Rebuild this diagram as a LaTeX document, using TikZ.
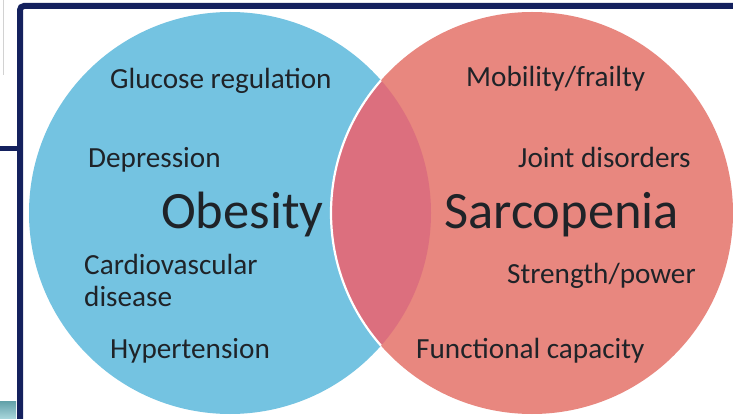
\documentclass[tikz,border=0pt]{standalone}
\usepackage{fontspec}
\setmainfont{Carlito}
\definecolor{framenavy}{HTML}{14215E}
\definecolor{obesblue}{HTML}{74C3E1}
\definecolor{sarcred}{HTML}{E8877F}
\definecolor{overlapred}{HTML}{DC6F7E}
\definecolor{inkdark}{HTML}{1F2328}
\definecolor{tealbar}{HTML}{72BCC6}
\begin{document}
\begin{tikzpicture}[x=1pt,y=-1pt,
  item/.style={anchor=base west, inner sep=0pt, text=inkdark,
    font=\fontsize{29.2}{31}\selectfont},
  heading/.style={anchor=base west, inner sep=0pt, text=inkdark,
    font=\fontsize{52.5}{56}\selectfont}]
\useasboundingbox (0,0) rectangle (733,419);
\fill[white] (0,0) rectangle (733,419);

% pieces of the neighbouring slide content
\draw[gray!35, line width=1.5pt] (3.5,0) -- (3.5,75);
\draw[framenavy, line width=5pt] (0,149) -- (17,149);
\shade[top color=tealbar!85!black, bottom color=tealbar!60!white] (0,401) rectangle (16,419);

% slide frame
\draw[framenavy, line width=6pt, rounded corners=4pt] (20,419) -- (20,6) -- (740,6);

% the two sets
\coordinate (cO) at (230,213);
\coordinate (cS) at (532,213);
\fill[obesblue] (cO) circle (201);
\fill[sarcred] (cS) circle (201);
\begin{scope}
  \clip (cO) circle (201);
  \fill[overlapred] (cS) circle (201);
\end{scope}
\begin{scope}
  \clip (cO) circle (201);
  \draw[white, line width=2.2pt] (cS) circle (201);
\end{scope}

% labels
\node[item] (glu) at (110,89) {Glucose regulation};
\node[item] (dep) at (88,168) {Depression};
\node[heading] (obe) at (161,229) {Obesity};
\node[item] (car) at (84,275) {Cardiovascular};
\node[item] (dis) at (84,307) {disease};
\node[item] (hyp) at (110,359) {Hypertension};

\node[item] (mob) at (466,87) {Mobility/frailty};
\node[item] (joi) at (518,168) {Joint disorders};
\node[heading] (sar) at (444,229) {Sarcopenia};
\node[item] (str) at (507,284) {Strength/power};
\node[item] (fun) at (416,359) {Functional capacity};
\end{tikzpicture}
\end{document}
